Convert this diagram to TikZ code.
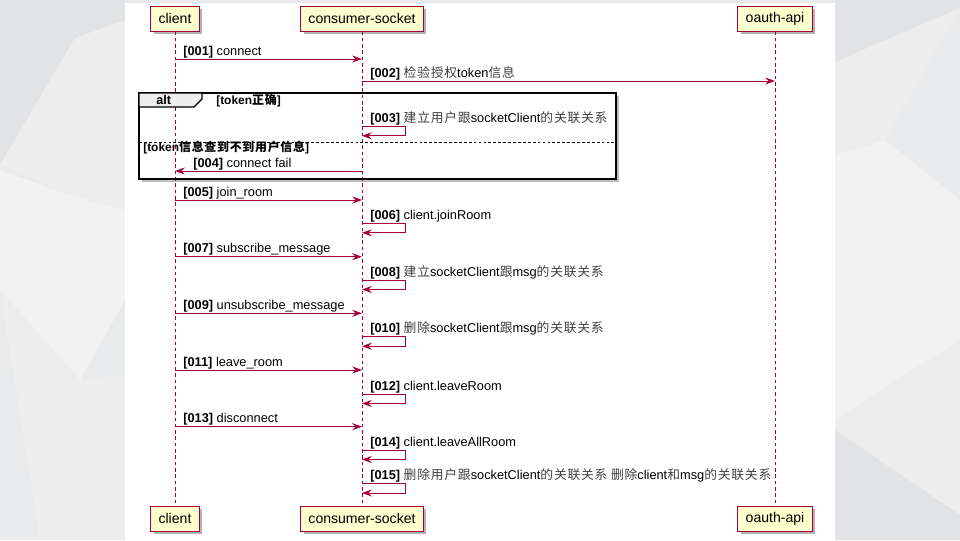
\documentclass[tikz,border=0pt]{standalone}
\usepackage{fontspec}
\setmainfont{Liberation Sans}
\newfontfamily\cjk[LetterSpace=6]{Noto Sans CJK SC}
\usetikzlibrary{arrows.meta, shadows}

\definecolor{seqred}{HTML}{A80036}
\definecolor{seqbox}{HTML}{FEFECE}
\definecolor{altgrey}{HTML}{EEEEEE}
\definecolor{bgbase}{HTML}{E9EAEB}
\definecolor{bgdark}{HTML}{E2E3E4}
\definecolor{bglight}{HTML}{EDEDEE}
\definecolor{bgpale}{HTML}{F2F2F2}

\newcommand{\zh}[1]{{\cjk\color{black!75}#1}}
\newcommand{\seqno}[1]{\textbf{[#1]}}

\begin{document}
\begin{tikzpicture}[x=0.025cm, y=-0.025cm,
    participant/.style={draw=seqred, fill=seqbox, line width=0.7pt, minimum height=0.625cm, inner xsep=5.5pt,
      font=\fontsize{10}{12}\selectfont, drop shadow={shadow xshift=2pt, shadow yshift=-2pt, fill=black, opacity=0.3}},
    lifeline/.style={seqred, line width=0.5pt, dash pattern=on 2.5pt off 2pt},
    msg/.style={-{Stealth[length=7pt, width=5pt, inset=2.5pt]}, seqred, line width=0.6pt},
    msglabel/.style={anchor=base west, inner sep=0pt, font=\fontsize{9.1}{11}\selectfont},
    grouplabel/.style={anchor=base west, inner sep=0pt, font=\fontsize{8.5}{10}\selectfont\bfseries}
  ]
    \useasboundingbox (0,0) rectangle (960,540);

    % background
    \fill[bgbase] (0,0) rectangle (960,540);
    \fill[bgdark] (0,0) -- (125,0) -- (125,20) -- (75,38) -- (0,165) -- cycle;
    \fill[bglight] (0,165) -- (75,38) -- (125,20) -- (125,210) -- (70,195) -- cycle;
    \fill[bgpale] (0,170) -- (70,195) -- (125,210) -- (125,300) -- (0,290) -- cycle;
    \fill[bgpale] (0,290) -- (125,300) -- (80,380) -- cycle;
    \fill[bglight] (0,290) -- (80,380) -- (125,375) -- (125,540) -- (40,540) -- cycle;
    \fill[bgdark] (835,0) -- (960,0) -- (960,8) -- (835,62) -- cycle;
    \fill[bglight] (835,62) -- (960,8) -- (885,140) -- (835,155) -- cycle;
    \fill[bgpale] (835,155) -- (885,140) -- (960,200) -- (835,270) -- cycle;
    \fill[bgpale] (835,270) -- (960,200) -- (960,340) -- (835,420) -- cycle;
    \fill[bglight] (835,420) -- (960,340) -- (960,540) -- (835,540) -- cycle;
    \fill[bgdark] (835,430) -- (960,515) -- (960,540) -- (835,540) -- cycle;
    \fill[white] (125,3) rectangle (835,540);

    % alt group area
    \coordinate (altNW) at (139,93);
    \coordinate (altSE) at (616,179);
    \fill[black, opacity=0.25] ([shift={(3,3)}]altNW) rectangle ([shift={(3,3)}]altSE);
    \fill[white] (altNW) rectangle (altSE);

    % participants
    \node[participant] (clientT) at (175,18.5) {client};
    \node[participant] (socketT) at (362,18.5) {consumer-socket};
    \node[participant] (oauthT) at (775,18.5) {oauth-api};
    \node[participant] (clientB) at (175,518.5) {client};
    \node[participant] (socketB) at (362,518.5) {consumer-socket};
    \node[participant] (oauthB) at (775,518.5) {oauth-api};

    \draw[lifeline] (clientT) -- (clientB);
    \draw[lifeline] (socketT) -- (socketB);
    \draw[lifeline] (oauthT) -- (oauthB);

    % alt frame
    \draw[line width=1.3pt] (altNW) rectangle (altSE);
    \filldraw[fill=altgrey, line width=0.8pt] (altNW) -- ++(63,0) -- ++(0,6) -- ++(-8,8) -| (altNW);
    \node[grouplabel, font=\fontsize{9}{11}\selectfont\bfseries] (altname) at (156,104) {alt};
    \node[grouplabel] (altok) at (216,104) {[token{\cjk 正确}]};
    \coordinate (altSepW) at (139,142.3);
    \coordinate (altSepE) at (616,142.3);
    \draw[line width=0.5pt, dash pattern=on 2pt off 1.5pt] (altSepW) -- (altSepE);
    \node[grouplabel] (altfail) at (143,151.5) {[token{\cjk 信息查到不到用户信息}]};

    % client -> consumer-socket
    \foreach \n/\y/\lbl in {001/59/connect, 005/200/join\_room, 007/256.7/subscribe\_message,
        009/313.3/unsubscribe\_message, 011/370/leave\_room, 013/426.7/disconnect}{
      \coordinate (c\n) at (175,\y);
      \coordinate (s\n) at (362,\y);
      \draw[msg] (c\n) -- (s\n);
      \node[msglabel] (l\n) at ([shift={(8,-4)}]c\n) {\seqno{\n} \lbl};
    }

    % consumer-socket -> oauth-api
    \coordinate (s002) at (362,81);
    \coordinate (o002) at (775,81);
    \draw[msg] (s002) -- (o002);
    \node[msglabel] (l002) at ([shift={(8,-4)}]s002) {\seqno{002} \zh{检验授权}token\zh{信息}};

    % consumer-socket -> client
    \coordinate (s004) at (362,171);
    \coordinate (c004) at (175,171);
    \draw[msg] (s004) -- (c004);
    \node[msglabel] (l004) at ([shift={(18,-4)}]c004) {\seqno{004} connect fail};

    % self messages
    \foreach \n/\y/\lbl in {003/126.3/{\zh{建立用户跟}socketClient\zh{的关联关系}},
        006/223.3/client.joinRoom,
        008/280/{\zh{建立}socketClient\zh{跟}msg\zh{的关联关系}},
        010/336.7/{\zh{删除}socketClient\zh{跟}msg\zh{的关联关系}},
        012/394/client.leaveRoom,
        014/450/client.leaveAllRoom,
        015/483.5/{\zh{删除用户跟}socketClient\zh{的关联关系} \zh{删除}client\zh{和}msg\zh{的关联关系}}}{
      \coordinate (s\n) at (362,\y);
      \coordinate (r\n) at (362,\y+9.5);
      \draw[msg] (s\n) -- ++(43,0) |- (r\n);
      \node[msglabel] (l\n) at ([shift={(8,-4)}]s\n) {\seqno{\n} \lbl};
    }
\end{tikzpicture}
\end{document}
